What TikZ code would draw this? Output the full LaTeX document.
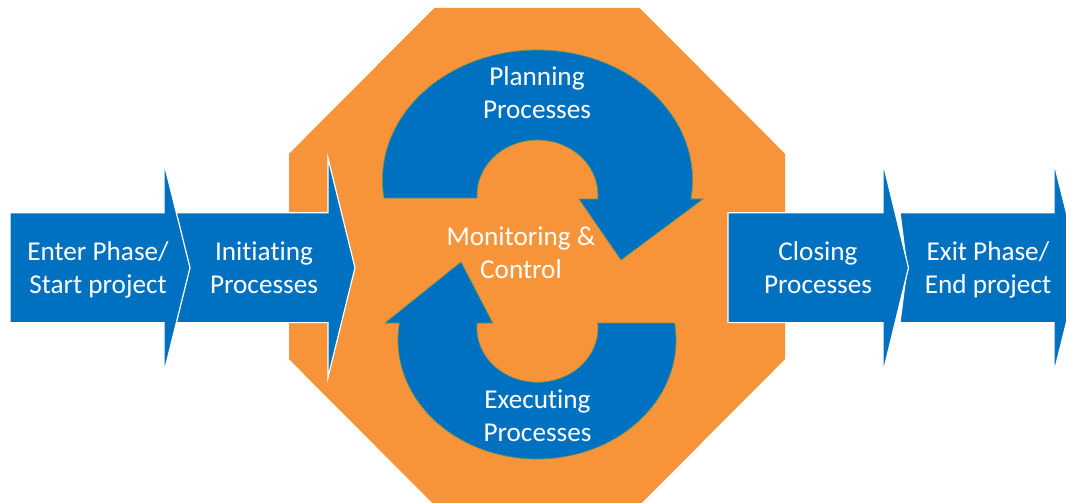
\documentclass[tikz,border=0pt]{standalone}
\usepackage{fontspec}
\setmainfont{Carlito}[Ligatures={NoCommon}]
\definecolor{pblue}{RGB}{0,112,192}
\definecolor{porange}{RGB}{247,148,58}
\definecolor{pedge}{RGB}{98,146,96}
% two centred lines with equal line boxes
\newcommand\lbltwo[2]{\strut#1\\\strut#2}
\begin{document}
\begin{tikzpicture}[x=1pt,y=-1pt,
  stage/.style={fill=pblue,draw=white,line width=1.2pt},
  loopshape/.style={fill=pblue,draw=pedge,line width=0.7pt},
  lbl/.style={text=white,align=center,font=\fontsize{27.2}{32.5}\selectfont}]
\useasboundingbox (0,0) rectangle (1066,503);
\clip (0,0) rectangle (1066,503);

% orange octagon behind the cycle
\fill[porange] (434.3,8) -- (639.7,8) -- (785,153.8) -- (785,359.2)
  -- (639.7,505) -- (434.3,505) -- (289,359.2) -- (289,153.8) -- cycle;

% phase chevrons (later ones drawn first so the white rims overlap them)
\path[stage] (176,212.8) -- (328,212.8) -- (328,158) -- (355,267.7) -- (328,377.4)
  -- (328,322.6) -- (176,322.6) -- (189,267.7) -- cycle;
\path[stage] (10,212.8) -- (164,212.8) -- (164,163) -- (190,267.7) -- (164,372.4)
  -- (164,322.6) -- (10,322.6) -- cycle;
\path[stage] (900,212.8) -- (1054,212.8) -- (1054,163) -- (1080,267.7) -- (1054,372.4)
  -- (1054,322.6) -- (900,322.6) -- (907,267.7) -- cycle;
\path[stage] (728,212.8) -- (883,212.8) -- (883,163) -- (908.5,267.7) -- (883,372.4)
  -- (883,322.6) -- (728,322.6) -- cycle;

% upper curved arrow (planning)
\path[loopshape] (537.5,180) ++(172.04:155 and 130)
  arc[start angle=172.04, end angle=368.4, x radius=155, y radius=130]
  -- (703,199) -- (621,260) -- (579,199) -- (597.8,199)
  arc[start angle=364.17, end angle=176.87, x radius=60.5, y radius=55] -- cycle;

% lower curved arrow (executing)
\path[loopshape] (537,340) ++(-8.21:139 and 119)
  arc[start angle=-8.21, end angle=188.21, x radius=139, y radius=119]
  -- (385,323) -- (461,262) -- (492.7,323) -- (477.1,323)
  arc[start angle=185.28, end angle=-5.28, x radius=60.6, y radius=54.3] -- cycle;

% labels
\node[lbl] (enter) at (98,270.5) {\lbltwo{Enter Phase/}{Start project}};
\node[lbl] (init)  at (264,270.5) {\lbltwo{Initiating}{Processes}};
\node[lbl] (plan)  at (537,95.5) {\lbltwo{Planning}{Processes}};
\node[lbl] (mon)   at (521,255.7) {\lbltwo{Monitoring \&}{Control}};
\node[lbl] (exec)  at (537.5,418.7) {\lbltwo{Executing}{Processes}};
\node[lbl] (close) at (818,270.5) {\lbltwo{Closing}{Processes}};
\node[lbl] (exit)  at (988,270.5) {\lbltwo{Exit Phase/}{End project}};
\end{tikzpicture}
\end{document}
